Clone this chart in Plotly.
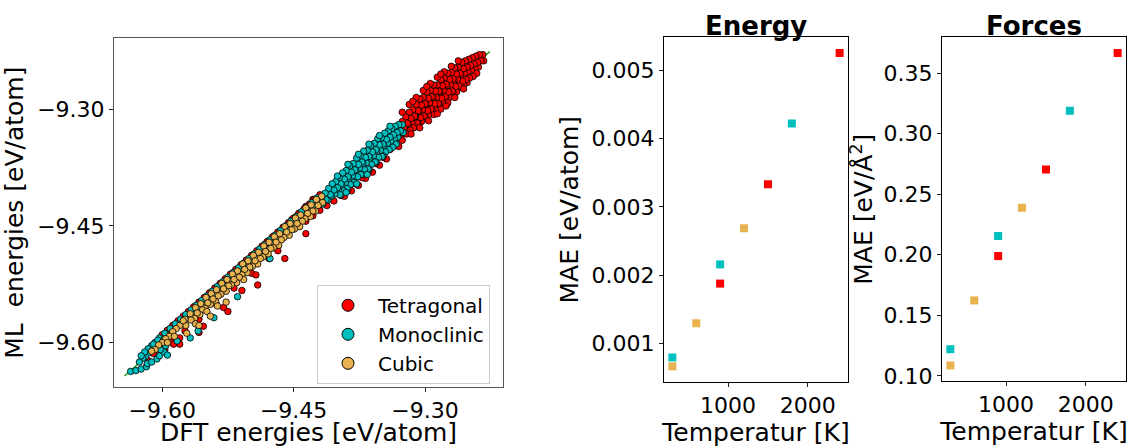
import plotly.graph_objects as go

# ---------------- data: parity plot (DFT vs ML energies, eV/atom) ----------------
tet_points = [
    (-9.234, -9.230), (-9.233, -9.238),
    (-9.238, -9.230), (-9.236, -9.238), (-9.239, -9.246),
    (-9.242, -9.232), (-9.240, -9.240), (-9.243, -9.248), (-9.241, -9.254),
    (-9.246, -9.234), (-9.244, -9.242), (-9.247, -9.250), (-9.245, -9.258),
    (-9.250, -9.236), (-9.248, -9.244), (-9.251, -9.252), (-9.249, -9.260), (-9.252, -9.266),
    (-9.254, -9.238), (-9.252, -9.246), (-9.255, -9.254), (-9.253, -9.262), (-9.256, -9.269),
    (-9.258, -9.240), (-9.256, -9.248), (-9.259, -9.256), (-9.257, -9.264), (-9.260, -9.272),
    (-9.262, -9.246), (-9.260, -9.254), (-9.263, -9.262), (-9.261, -9.270), (-9.264, -9.278),
    (-9.266, -9.247), (-9.264, -9.255), (-9.267, -9.263), (-9.265, -9.271), (-9.268, -9.279),
    (-9.270, -9.253), (-9.268, -9.261), (-9.271, -9.269), (-9.269, -9.277), (-9.272, -9.285),
    (-9.274, -9.254), (-9.272, -9.262), (-9.275, -9.270), (-9.273, -9.278), (-9.276, -9.286), (-9.274, -9.292),
    (-9.278, -9.260), (-9.276, -9.268), (-9.279, -9.276), (-9.277, -9.284), (-9.280, -9.292),
    (-9.282, -9.262), (-9.280, -9.270), (-9.283, -9.278), (-9.281, -9.286), (-9.284, -9.294), (-9.282, -9.300),
    (-9.286, -9.269), (-9.284, -9.277), (-9.287, -9.285), (-9.285, -9.293), (-9.288, -9.301),
    (-9.290, -9.269), (-9.288, -9.277), (-9.291, -9.285), (-9.289, -9.293), (-9.292, -9.301), (-9.290, -9.307),
    (-9.294, -9.276), (-9.292, -9.284), (-9.295, -9.292), (-9.293, -9.300), (-9.296, -9.308),
    (-9.298, -9.278), (-9.296, -9.286), (-9.299, -9.294), (-9.297, -9.302), (-9.300, -9.310),
    (-9.302, -9.285), (-9.300, -9.293), (-9.303, -9.301), (-9.301, -9.309), (-9.304, -9.316),
    (-9.306, -9.287), (-9.304, -9.295), (-9.307, -9.303), (-9.305, -9.311), (-9.308, -9.318),
    (-9.310, -9.294), (-9.308, -9.302), (-9.311, -9.310), (-9.309, -9.318), (-9.312, -9.323),
    (-9.314, -9.301), (-9.312, -9.309), (-9.315, -9.317), (-9.313, -9.324),
    (-9.318, -9.304), (-9.316, -9.312), (-9.319, -9.320), (-9.317, -9.327),
    (-9.322, -9.310), (-9.320, -9.318), (-9.323, -9.326), (-9.321, -9.332),
    (-9.326, -9.316), (-9.324, -9.324), (-9.327, -9.332),
    (-9.330, -9.322), (-9.328, -9.330), (-9.331, -9.337),
    (-9.334, -9.330), (-9.333, -9.338),
    (-9.262, -9.238), (-9.270, -9.245), (-9.278, -9.252), (-9.286, -9.259), (-9.294, -9.267),
    (-9.302, -9.276), (-9.310, -9.285), (-9.318, -9.294), (-9.326, -9.304), (-9.282, -9.255),
    (-9.298, -9.271), (-9.314, -9.290),
    (-9.256, -9.274), (-9.266, -9.285), (-9.276, -9.296), (-9.286, -9.306), (-9.296, -9.315),
    (-9.306, -9.324), (-9.316, -9.332), (-9.326, -9.340),
    (-9.330, -9.348), (-9.344, -9.364), (-9.352, -9.372), (-9.360, -9.381), (-9.368, -9.389),
    (-9.376, -9.398), (-9.384, -9.405), (-9.392, -9.412),
    (-9.340, -9.352), (-9.348, -9.362), (-9.356, -9.370), (-9.364, -9.379), (-9.372, -9.388),
    (-9.380, -9.396), (-9.388, -9.404), (-9.396, -9.411), (-9.404, -9.418), (-9.412, -9.424),
    (-9.420, -9.430), (-9.428, -9.437), (-9.436, -9.444), (-9.428, -9.416), (-9.436, -9.425),
    (-9.444, -9.434), (-9.452, -9.442), (-9.462, -9.452), (-9.472, -9.463), (-9.482, -9.473),
    (-9.468, -9.482), (-9.478, -9.492), (-9.498, -9.511), (-9.518, -9.530), (-9.538, -9.551),
    (-9.558, -9.570), (-9.574, -9.585), (-9.590, -9.599), (-9.606, -9.613), (-9.616, -9.623),
    (-9.420, -9.410), (-9.426, -9.416), (-9.432, -9.422), (-9.438, -9.428), (-9.444, -9.434),
    (-9.450, -9.440), (-9.456, -9.446), (-9.462, -9.452), (-9.468, -9.458), (-9.474, -9.464),
    (-9.480, -9.470), (-9.486, -9.476), (-9.492, -9.482), (-9.498, -9.488), (-9.504, -9.494),
    (-9.510, -9.500), (-9.516, -9.506), (-9.522, -9.512), (-9.528, -9.518), (-9.534, -9.524),
    (-9.540, -9.530), (-9.546, -9.536), (-9.552, -9.542), (-9.558, -9.548), (-9.564, -9.554),
    (-9.570, -9.560), (-9.576, -9.566), (-9.582, -9.572), (-9.588, -9.578), (-9.594, -9.584),
    (-9.600, -9.590),
    (-9.436, -9.460), (-9.460, -9.492), (-9.491, -9.526), (-9.493, -9.513), (-9.509, -9.533),
    (-9.530, -9.555), (-9.525, -9.560), (-9.553, -9.579), (-9.558, -9.587), (-9.580, -9.594),
    (-9.580, -9.602), (-9.587, -9.602), (-9.597, -9.609), (-9.600, -9.606), (-9.610, -9.614),
]

mono_points = [
    (-9.326, -9.320), (-9.325, -9.330),
    (-9.330, -9.320), (-9.328, -9.328), (-9.331, -9.336),
    (-9.334, -9.322), (-9.332, -9.330), (-9.335, -9.338), (-9.333, -9.345),
    (-9.338, -9.325), (-9.336, -9.333), (-9.339, -9.341), (-9.337, -9.349),
    (-9.342, -9.328), (-9.340, -9.336), (-9.343, -9.344), (-9.341, -9.352),
    (-9.346, -9.331), (-9.344, -9.339), (-9.347, -9.347), (-9.345, -9.355), (-9.348, -9.360),
    (-9.350, -9.337), (-9.348, -9.345), (-9.351, -9.353), (-9.349, -9.361),
    (-9.354, -9.338), (-9.352, -9.346), (-9.355, -9.354), (-9.353, -9.362), (-9.356, -9.368),
    (-9.358, -9.344), (-9.356, -9.352), (-9.359, -9.360), (-9.357, -9.368),
    (-9.362, -9.347), (-9.360, -9.355), (-9.363, -9.363), (-9.361, -9.371), (-9.364, -9.377),
    (-9.366, -9.353), (-9.364, -9.361), (-9.367, -9.369), (-9.365, -9.377),
    (-9.370, -9.354), (-9.368, -9.362), (-9.371, -9.370), (-9.369, -9.378), (-9.372, -9.384),
    (-9.374, -9.360), (-9.372, -9.368), (-9.375, -9.376), (-9.373, -9.384),
    (-9.378, -9.363), (-9.376, -9.371), (-9.379, -9.379), (-9.377, -9.387), (-9.380, -9.394),
    (-9.382, -9.370), (-9.380, -9.378), (-9.383, -9.386), (-9.381, -9.394),
    (-9.386, -9.373), (-9.384, -9.381), (-9.387, -9.389), (-9.385, -9.397),
    (-9.390, -9.379), (-9.388, -9.387), (-9.391, -9.395), (-9.389, -9.402),
    (-9.394, -9.382), (-9.392, -9.390), (-9.395, -9.398), (-9.393, -9.405),
    (-9.398, -9.388), (-9.396, -9.396), (-9.399, -9.404), (-9.397, -9.410),
    (-9.402, -9.393), (-9.400, -9.401), (-9.403, -9.409),
    (-9.406, -9.396), (-9.404, -9.404), (-9.407, -9.412),
    (-9.410, -9.402), (-9.408, -9.410), (-9.411, -9.417),
    (-9.414, -9.408), (-9.413, -9.416),
    (-9.418, -9.414), (-9.417, -9.422),
    (-9.340, -9.322), (-9.352, -9.334), (-9.364, -9.345), (-9.376, -9.358), (-9.388, -9.371),
    (-9.400, -9.386), (-9.378, -9.396), (-9.366, -9.384), (-9.390, -9.407),
    (-9.423, -9.414), (-9.429, -9.420), (-9.435, -9.426), (-9.441, -9.432), (-9.447, -9.438),
    (-9.453, -9.444), (-9.459, -9.450), (-9.465, -9.456), (-9.471, -9.462), (-9.477, -9.468),
    (-9.483, -9.474), (-9.489, -9.480), (-9.495, -9.486), (-9.501, -9.492), (-9.507, -9.498),
    (-9.513, -9.504), (-9.519, -9.510), (-9.525, -9.516), (-9.531, -9.522), (-9.537, -9.528),
    (-9.543, -9.534), (-9.549, -9.540), (-9.555, -9.546), (-9.561, -9.552), (-9.567, -9.558),
    (-9.573, -9.564), (-9.579, -9.570), (-9.585, -9.576), (-9.591, -9.582), (-9.597, -9.588),
    (-9.603, -9.594),
    (-9.636, -9.637), (-9.630, -9.636), (-9.624, -9.634), (-9.618, -9.631), (-9.617, -9.627),
    (-9.612, -9.625), (-9.606, -9.621), (-9.603, -9.617), (-9.598, -9.612), (-9.602, -9.609),
    (-9.596, -9.604), (-9.598, -9.596), (-9.603, -9.600), (-9.607, -9.605), (-9.611, -9.609),
    (-9.615, -9.613), (-9.619, -9.618), (-9.622, -9.620), (-9.626, -9.625),
    (-9.608, -9.600), (-9.612, -9.604), (-9.616, -9.608), (-9.620, -9.612), (-9.624, -9.617),
    (-9.605, -9.597), (-9.610, -9.602),
    (-9.477, -9.492), (-9.514, -9.541), (-9.541, -9.568), (-9.559, -9.585), (-9.568, -9.594),
    (-9.583, -9.598), (-9.594, -9.616),
]

cubic_points = [
    (-9.418, -9.412), (-9.417, -9.420),
    (-9.424, -9.416), (-9.422, -9.424), (-9.425, -9.431),
    (-9.430, -9.423), (-9.428, -9.431), (-9.431, -9.438),
    (-9.436, -9.427), (-9.434, -9.434), (-9.437, -9.441),
    (-9.442, -9.436), (-9.440, -9.444), (-9.443, -9.451),
    (-9.448, -9.440), (-9.446, -9.447), (-9.449, -9.454),
    (-9.454, -9.447), (-9.452, -9.455), (-9.455, -9.462),
    (-9.460, -9.451), (-9.458, -9.458), (-9.461, -9.465),
    (-9.466, -9.460), (-9.464, -9.468), (-9.467, -9.475),
    (-9.472, -9.464), (-9.470, -9.471), (-9.473, -9.478),
    (-9.478, -9.471), (-9.476, -9.479), (-9.479, -9.486),
    (-9.484, -9.476), (-9.482, -9.483), (-9.485, -9.490),
    (-9.490, -9.484), (-9.488, -9.492), (-9.491, -9.499),
    (-9.496, -9.488), (-9.494, -9.495), (-9.497, -9.502),
    (-9.502, -9.495), (-9.500, -9.503), (-9.503, -9.510),
    (-9.508, -9.499), (-9.506, -9.506), (-9.509, -9.513), (-9.507, -9.519),
    (-9.514, -9.508), (-9.512, -9.516), (-9.515, -9.523),
    (-9.520, -9.512), (-9.518, -9.519), (-9.521, -9.526),
    (-9.526, -9.519), (-9.524, -9.527), (-9.527, -9.534),
    (-9.532, -9.524), (-9.530, -9.531), (-9.533, -9.538),
    (-9.538, -9.532), (-9.536, -9.540), (-9.539, -9.547),
    (-9.544, -9.537), (-9.542, -9.544), (-9.545, -9.551),
    (-9.550, -9.542), (-9.548, -9.549), (-9.551, -9.556),
    (-9.556, -9.550), (-9.554, -9.558), (-9.557, -9.564),
    (-9.562, -9.555), (-9.560, -9.562), (-9.563, -9.569),
    (-9.568, -9.563), (-9.567, -9.571),
    (-9.574, -9.570), (-9.573, -9.578),
    (-9.580, -9.578), (-9.576, -9.572), (-9.584, -9.582), (-9.588, -9.586),
    (-9.592, -9.592), (-9.596, -9.595), (-9.600, -9.600), (-9.604, -9.603),
    (-9.608, -9.609), (-9.612, -9.611), (-9.586, -9.592), (-9.594, -9.600),
    (-9.527, -9.548), (-9.537, -9.553), (-9.549, -9.560), (-9.545, -9.566),
    (-9.562, -9.576), (-9.558, -9.578), (-9.572, -9.588),
]

diag_line = [-9.643, -9.226]

# ---------------- data: MAE vs temperature ----------------
temps_tet = [900, 1500, 2400]
temps_mono = [300, 900, 1800]
temps_cubic = [300, 600, 1200]

energy_tet = [0.00188, 0.00333, 0.00525]
energy_mono = [0.00080, 0.00216, 0.00422]
energy_cubic = [0.00067, 0.00130, 0.00269]

forces_tet = [0.1989, 0.2704, 0.3667]
forces_mono = [0.1220, 0.2155, 0.3190]
forces_cubic = [0.1086, 0.1623, 0.2388]

parity_ticks = [-9.60, -9.45, -9.30]
parity_ticktext = ["\u22129.60", "\u22129.45", "\u22129.30"]
energy_ticks = [0.001, 0.002, 0.003, 0.004, 0.005]
energy_ticktext = ["0.001", "0.002", "0.003", "0.004", "0.005"]
forces_ticks = [0.10, 0.15, 0.20, 0.25, 0.30, 0.35]
forces_ticktext = ["0.10", "0.15", "0.20", "0.25", "0.30", "0.35"]
temp_ticks = [1000, 2000]
temp_ticktext = ["1000", "2000"]

labels = ["Tetragonal", "Monoclinic", "Cubic"]
colors = ["#ff0000", "#00bfbf", "#e8b24e"]

FONT = "DejaVu Sans"

fig = go.Figure()

# y = x reference line
fig.add_trace(go.Scatter(x=diag_line, y=diag_line, mode="lines",
                         line=dict(color="#16a016", width=1.5),
                         showlegend=False, hoverinfo="skip",
                         xaxis="x", yaxis="y"))

for pts, lab, col in zip([tet_points, mono_points, cubic_points], labels, colors):
    fig.add_trace(go.Scatter(
        x=[p[0] for p in pts], y=[p[1] for p in pts], mode="markers",
        marker=dict(size=6.5, color=col, line=dict(color="black", width=0.8)),
        showlegend=False, xaxis="x", yaxis="y"))
    # legend entry with larger symbol
    fig.add_trace(go.Scatter(
        x=[None], y=[None], mode="markers", name=lab,
        marker=dict(size=12, color=col, line=dict(color="black", width=1)),
        showlegend=True, xaxis="x", yaxis="y"))

for temps, en, fo, col in zip([temps_tet, temps_mono, temps_cubic],
                              [energy_tet, energy_mono, energy_cubic],
                              [forces_tet, forces_mono, forces_cubic], colors):
    fig.add_trace(go.Scatter(x=temps, y=en, mode="markers",
                             marker=dict(symbol="square", size=8, color=col, line=dict(width=0)),
                             showlegend=False, xaxis="x2", yaxis="y2"))
    fig.add_trace(go.Scatter(x=temps, y=fo, mode="markers",
                             marker=dict(symbol="square", size=8, color=col, line=dict(width=0)),
                             showlegend=False, xaxis="x3", yaxis="y3"))

W, H = 1138, 447


def px_x(a, b):
    return [a / W, b / W]


def px_y(top, bottom):
    return [(H - bottom) / H, (H - top) / H]


tickfont = dict(family=FONT, size=22, color="black")
titlefont = dict(family=FONT, size=25, color="black")
common = dict(showgrid=False, zeroline=False, showline=True, mirror=True,
              ticks="outside", ticklen=4, tickwidth=1, tickcolor="#222",
              tickfont=tickfont)

fig.update_layout(
    width=W, height=H,
    margin=dict(l=0, r=0, t=0, b=0),
    paper_bgcolor="white", plot_bgcolor="white",
    font=dict(family=FONT, color="black"),
    xaxis=dict(domain=px_x(114, 503), range=[-9.655, -9.211], anchor="y",
               tickvals=parity_ticks, ticktext=parity_ticktext,
               linecolor="#555", linewidth=1,
               title=dict(text="DFT energies [eV/atom]", font=titlefont, standoff=6),
               **common),
    yaxis=dict(domain=px_y(39, 394), range=[-9.657, -9.209], anchor="x",
               tickvals=parity_ticks, ticktext=parity_ticktext,
               linecolor="#555", linewidth=1,
               title=dict(text="ML\u00a0 energies [eV/atom]", font=titlefont, standoff=6),
               **common),
    xaxis2=dict(domain=px_x(664, 848), range=[195, 2505], anchor="y2",
                tickvals=temp_ticks, ticktext=temp_ticktext,
                linecolor="black", linewidth=1,
                title=dict(text="Temperatur [K]", font=titlefont, standoff=4),
                **common),
    yaxis2=dict(domain=px_y(38, 389), range=[0.000441, 0.005479], anchor="x2",
                tickvals=energy_ticks, ticktext=energy_ticktext,
                linecolor="black", linewidth=1,
                title=dict(text="MAE [eV/atom]", font=titlefont, standoff=5),
                **common),
    xaxis3=dict(domain=px_x(942, 1126), range=[195, 2505], anchor="y3",
                tickvals=temp_ticks, ticktext=temp_ticktext,
                linecolor="black", linewidth=1,
                title=dict(text="Temperatur [K]", font=titlefont, standoff=4),
                **common),
    yaxis3=dict(domain=px_y(38, 388), range=[0.0957, 0.3796], anchor="x3",
                tickvals=forces_ticks, ticktext=forces_ticktext,
                linecolor="black", linewidth=1,
                title=dict(text="MAE [eV/Å<sup>2</sup>]", font=titlefont, standoff=3),
                **common),
    legend=dict(x=317 / W, y=(H - 290) / H, xanchor="left", yanchor="top",
                bgcolor="rgba(255,255,255,0.9)", bordercolor="#cccccc", borderwidth=1,
                font=dict(family=FONT, size=20, color="black"),
                itemwidth=50, itemsizing="trace", tracegroupgap=0),
    annotations=[
        dict(text="<b>Energy</b>", x=(664 + 848) / 2 / W, y=(H - 38) / H,
             xref="paper", yref="paper", xanchor="center", yanchor="bottom",
             yshift=-6, showarrow=False, font=dict(family=FONT, size=26, color="black")),
        dict(text="<b>Forces</b>", x=(942 + 1126) / 2 / W, y=(H - 38) / H,
             xref="paper", yref="paper", xanchor="center", yanchor="bottom",
             yshift=-6, showarrow=False, font=dict(family=FONT, size=26, color="black")),
    ],
)

fig.write_html("out.html", config={"displayModeBar": False},
               post_script="document.body.style.margin='0';")
